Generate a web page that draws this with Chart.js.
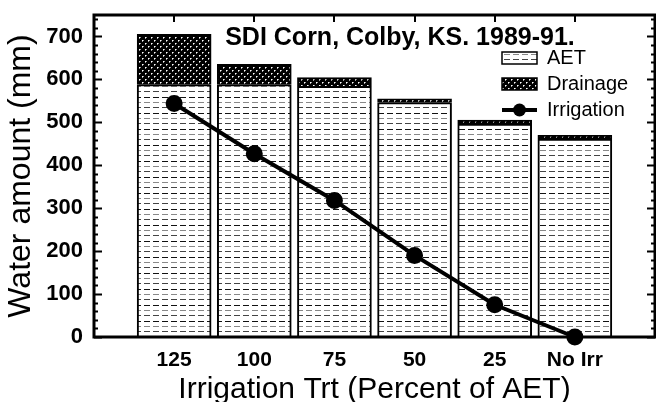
<!DOCTYPE html>
<html>
<head>
<meta charset="utf-8">
<script src="https://cdn.jsdelivr.net/npm/chart.js@4"></script>
<style>
  html, body { margin: 0; padding: 0; background: #fff; }
  #wrap { width: 656px; height: 402px; }
</style>
</head>
<body>
<div id="wrap"><canvas id="chart" width="656" height="402"></canvas></div>
<script>
// categories (irrigation treatment, % of AET)
const categories = ['125', '100', '75', '50', '25', 'No Irr'];
// water amounts in mm
const aet = [588, 588, 584, 546, 496, 461];
const drainage = [117, 47, 20, 9, 9, 9];
const irrigation = [544, 427, 318, 190, 75, 0];
const yTicks = [0, 100, 200, 300, 400, 500, 600, 700];

const FONT = "'Liberation Sans', Arial, sans-serif";

// hatch patterns like the original figure
function makeAetPattern(ctx) {
  const c = document.createElement('canvas');
  c.width = 9; c.height = 16;
  const g = c.getContext('2d');
  g.fillStyle = '#fff';
  g.fillRect(0, 0, 9, 16);
  const rows = [[1, '#111'], [6, '#888'], [11, '#444']];
  rows.forEach(([y, col]) => {
    g.fillStyle = col;
    g.fillRect(0, y, 6, 1);
  });
  return ctx.createPattern(c, 'repeat');
}

function makeDrainPattern(ctx) {
  const c = document.createElement('canvas');
  c.width = 6; c.height = 6;
  const g = c.getContext('2d');
  g.fillStyle = '#000';
  g.fillRect(0, 0, 6, 6);
  g.fillStyle = '#fff';
  g.fillRect(1, 1, 1, 1);
  g.fillRect(4, 4, 1, 1);
  g.fillStyle = '#999';
  g.fillRect(2, 1, 1, 1);
  g.fillRect(1, 2, 1, 1);
  g.fillRect(5, 4, 1, 1);
  g.fillRect(4, 5, 1, 1);
  return ctx.createPattern(c, 'repeat');
}

const ctx = document.getElementById('chart').getContext('2d');
const aetFill = makeAetPattern(ctx);
const drainFill = makeDrainPattern(ctx);

// frame, inward ticks, title and legend
const decorPlugin = {
  id: 'decor',
  afterDraw(chart) {
    const { ctx, chartArea: a, scales } = chart;
    const y = scales.y, x = scales.x;
    ctx.save();
    ctx.strokeStyle = '#000';
    ctx.fillStyle = '#000';

    // inward ticks on left and right
    ctx.lineWidth = 2;
    for (let v = 0; v <= 740; v += 20) {
      const py = Math.round(y.getPixelForValue(v)) + 0.5;
      const len = v % 100 === 0 ? 8 : 4;
      ctx.beginPath();
      ctx.moveTo(a.left, py); ctx.lineTo(a.left + len, py);
      ctx.moveTo(a.right, py); ctx.lineTo(a.right - len, py);
      ctx.stroke();
    }
    // top ticks at category centres
    categories.forEach((c, i) => {
      const px = Math.round(x.getPixelForValue(i + 1));
      ctx.beginPath();
      ctx.moveTo(px, a.top); ctx.lineTo(px, a.top + 7);
      ctx.stroke();
    });

    // frame
    ctx.lineWidth = 3;
    ctx.strokeRect(a.left, a.top, a.right - a.left, a.bottom - a.top);

    // title
    ctx.font = 'bold 25px ' + FONT;
    ctx.textAlign = 'center';
    ctx.textBaseline = 'alphabetic';
    ctx.fillText('SDI Corn, Colby, KS. 1989-91.', 400, 45);

    // legend
    const bx = 502, bw = 35, tx = 547;
    ctx.font = '20px ' + FONT;
    ctx.textAlign = 'left';
    ctx.textBaseline = 'middle';
    const rows = [58, 84, 110];
    ctx.lineWidth = 1.5;
    ctx.fillStyle = aetFill;
    ctx.fillRect(bx, rows[0] - 6, bw, 12);
    ctx.strokeRect(bx, rows[0] - 6, bw, 12);
    ctx.fillStyle = drainFill;
    ctx.fillRect(bx, rows[1] - 6, bw, 12);
    ctx.strokeRect(bx, rows[1] - 6, bw, 12);
    ctx.lineWidth = 4;
    ctx.beginPath();
    ctx.moveTo(bx, rows[2]); ctx.lineTo(bx + bw, rows[2]);
    ctx.stroke();
    ctx.fillStyle = '#000';
    ctx.beginPath();
    ctx.arc(bx + bw / 2, rows[2], 6.5, 0, Math.PI * 2);
    ctx.fill();
    ctx.fillText('AET', tx, rows[0]);
    ctx.fillText('Drainage', tx, rows[1]);
    ctx.fillText('Irrigation', tx, rows[2]);
    ctx.restore();
  }
};

new Chart(ctx, {
  type: 'bar',
  data: {
    datasets: [
      {
        type: 'line',
        label: 'Irrigation',
        data: irrigation.map((v, i) => ({ x: i + 1, y: v })),
        borderColor: '#000',
        backgroundColor: '#000',
        borderWidth: 4,
        pointRadius: 6.5,
        pointHoverRadius: 6.5,
        stack: 'irr',
        order: 0,
        clip: false
      },
      {
        label: 'AET',
        data: aet.map((v, i) => ({ x: i + 1, y: v })),
        backgroundColor: aetFill,
        borderColor: '#000',
        borderWidth: 2,
        barThickness: 74,
        stack: 'water',
        order: 1
      },
      {
        label: 'Drainage',
        data: drainage.map((v, i) => ({ x: i + 1, y: v })),
        backgroundColor: drainFill,
        borderColor: '#000',
        borderWidth: 2,
        barThickness: 74,
        stack: 'water',
        order: 1
      }
    ]
  },
  options: {
    responsive: false,
    animation: false,
    layout: { autoPadding: false, padding: { top: 15, right: 1, left: 0, bottom: 0 } },
    plugins: {
      legend: { display: false },
      tooltip: { enabled: false }
    },
    scales: {
      x: {
        type: 'linear',
        min: 0,
        max: 7,
        offset: false,
        stacked: true,
        grid: { display: false, drawTicks: false },
        border: { display: false },
        afterFit: (s) => {
          s.height = 65;
          s.paddingLeft = 0;
          s.paddingRight = 0;
        },
        afterBuildTicks: (s) => {
          s.ticks = [0, 1, 2, 3, 4, 5, 6, 7].map((v) => ({ value: v }));
        },
        ticks: {
          autoSkip: false,
          maxRotation: 0,
          padding: 11,
          color: '#000',
          font: { family: FONT, size: 21, weight: 'bold' },
          callback: (v) => categories[v - 1] ?? ''
        },
        title: {
          display: true,
          text: 'Irrigation Trt (Percent of AET)',
          color: '#000',
          padding: { top: 0, bottom: -3 },
          font: { family: FONT, size: 30, lineHeight: 1 }
        }
      },
      y: {
        min: 0,
        max: 750,
        stacked: true,
        grid: { display: false, drawTicks: false },
        border: { display: false },
        afterFit: (s) => {
          s.width = 94;
          s.paddingTop = 0;
          s.paddingBottom = 0;
        },
        afterBuildTicks: (s) => { s.ticks = yTicks.map((v) => ({ value: v })); },
        ticks: {
          padding: 11,
          color: '#000',
          font: { family: FONT, size: 22, weight: 'bold' }
        },
        title: {
          display: true,
          text: 'Water amount (mm)',
          color: '#000',
          padding: { top: 2, bottom: 0 },
          font: { family: FONT, size: 32 }
        }
      }
    }
  },
  plugins: [decorPlugin]
});
</script>
</body>
</html>
